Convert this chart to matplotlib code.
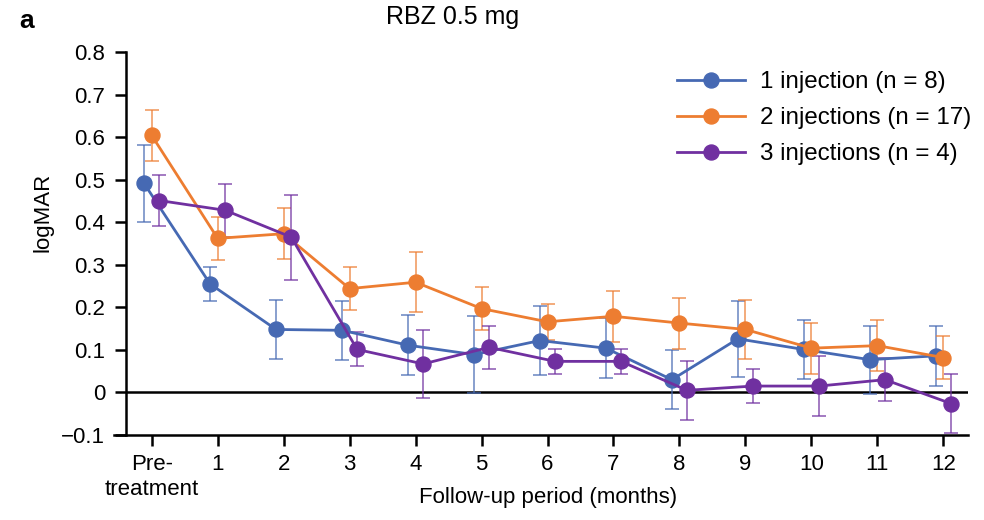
import matplotlib
matplotlib.use("Agg")
import matplotlib.pyplot as plt
import numpy as np

plt.rcParams['font.family'] = ['Liberation Sans', 'DejaVu Sans']

# ---- data ----
months = list(range(13))
tick_labels = ["Pre-\ntreatment", "1", "2", "3", "4", "5", "6", "7", "8", "9", "10", "11", "12"]

inj1_mean = [0.491, 0.255, 0.148, 0.146, 0.111, 0.089, 0.122, 0.104, 0.030, 0.126, 0.101, 0.077, 0.086]
inj1_err  = [0.090, 0.040, 0.070, 0.070, 0.070, 0.090, 0.080, 0.070, 0.070, 0.090, 0.070, 0.080, 0.070]

inj2_mean = [0.604, 0.362, 0.373, 0.244, 0.259, 0.197, 0.166, 0.179, 0.163, 0.148, 0.104, 0.110, 0.082]
inj2_err  = [0.060, 0.050, 0.060, 0.050, 0.070, 0.050, 0.042, 0.060, 0.060, 0.070, 0.060, 0.060, 0.050]

inj3_mean = [0.451, 0.428, 0.365, 0.101, 0.067, 0.106, 0.073, 0.073, 0.005, 0.015, 0.015, 0.030, -0.026]
inj3_err  = [0.060, 0.062, 0.100, 0.040, 0.080, 0.050, 0.030, 0.030, 0.070, 0.040, 0.070, 0.051, 0.070]

labels = ["1 injection (n = 8)", "2 injections (n = 17)", "3 injections (n = 4)"]
colors = ["#4669B3", "#ED7D31", "#7030A0"]

FS = 16      # ticks / axis labels
TFS = 18     # title
LFS = 17.4   # legend

# ---- figure ----
W, H = 984, 520
fig = plt.figure(figsize=(W / 100, H / 100), dpi=100)
x_left_px, x_right_px = 114, 968
y_top_px, y_bot_px = 52, 435
ax = fig.add_axes([x_left_px / W, 1 - y_bot_px / H,
                   (x_right_px - x_left_px) / W, (y_bot_px - y_top_px) / H])

x0_px, dx_px = 151.7, 65.97
xlim = ((x_left_px - x0_px) / dx_px, 12 + (x_right_px - (x0_px + 12 * dx_px)) / dx_px)
spine_x = (126 - x0_px) / dx_px

offsets = [-0.115, 0.0, 0.115]
series = [(inj1_mean, inj1_err), (inj2_mean, inj2_err), (inj3_mean, inj3_err)]
xm = np.array(months, dtype=float)

ax.hlines(0, spine_x, xlim[1], color="black", lw=1.8, zorder=1)

handles = []
for (m, e), off, c, lab in zip(series, offsets, colors, labels):
    ax.errorbar(xm + off, m, yerr=e, fmt="none", ecolor=c, elinewidth=1.2,
                capsize=5, capthick=1.2, alpha=0.75, zorder=2)
    h, = ax.plot(xm + off, m, "-o", color=c, lw=2.0, markersize=10.8,
                 label=lab, zorder=3)
    handles.append(h)

ax.set_xlim(*xlim)
ax.set_ylim(-0.1, 0.8)
ax.set_xticks(months)
ax.set_xticklabels(tick_labels)
ax.set_yticks(np.round(np.arange(-0.1, 0.81, 0.1), 1))
ax.set_yticklabels(["\u22120.1", "0", "0.1", "0.2", "0.3", "0.4", "0.5", "0.6", "0.7", "0.8"])

for s in ["top", "right"]:
    ax.spines[s].set_visible(False)
ax.spines["left"].set_position(("data", spine_x))
ax.spines["left"].set_linewidth(1.8)
ax.spines["bottom"].set_linewidth(1.8)
ax.tick_params(axis="both", direction="out", length=8, width=1.8, labelsize=FS, colors="black")
ax.tick_params(axis="y", pad=7)
ax.tick_params(axis="x", pad=6)

leg = ax.legend(handles=handles, loc="upper left", frameon=False, fontsize=LFS,
                handlelength=2.8, handletextpad=0.62, labelspacing=0.58,
                borderpad=0, borderaxespad=0,
                bbox_to_anchor=(677 / W, 1 - 71 / H), bbox_transform=fig.transFigure)

fig.text(453 / W, 1 - 17 / H, "RBZ 0.5 mg", ha="center", va="center", fontsize=TFS)
fig.text(19 / W, 1 - 21 / H, "a", ha="left", va="center", fontsize=TFS + 1, fontweight="bold")
fig.text(43 / W, 1 - 212 / H, "logMAR", ha="center", va="center", rotation=90, fontsize=FS)
fig.text(548 / W, 1 - 497 / H, "Follow-up period (months)", ha="center", va="center", fontsize=FS)

fig.savefig("out.png", dpi=100)
